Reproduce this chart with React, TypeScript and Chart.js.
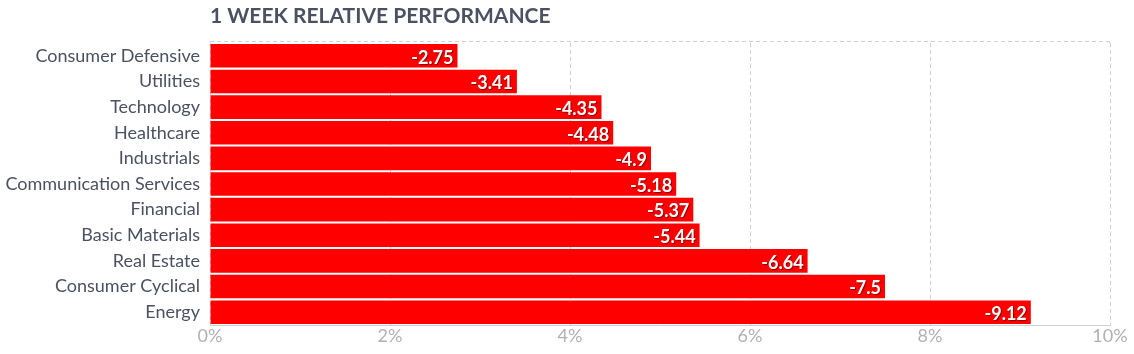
import React, { useEffect, useRef } from "react";
import { Chart, registerables } from "chart.js";

Chart.register(...registerables);

const title = "1 WEEK RELATIVE PERFORMANCE";
const categories = [
  "Consumer Defensive",
  "Utilities",
  "Technology",
  "Healthcare",
  "Industrials",
  "Communication Services",
  "Financial",
  "Basic Materials",
  "Real Estate",
  "Consumer Cyclical",
  "Energy",
];
const values = [-2.75, -3.41, -4.35, -4.48, -4.9, -5.18, -5.37, -5.44, -6.64, -7.5, -9.12];
const xTicks = [0, 2, 4, 6, 8, 10];

const FONT = "Lato, 'Open Sans', sans-serif";

export default function App() {
  const ref = useRef<HTMLCanvasElement | null>(null);
  useEffect(() => {
    const canvas = ref.current;
    if (!canvas) return;
    const decor = {
      id: "decor",
      beforeDatasetsDraw(chart: any) {
        const { ctx, chartArea } = chart;
        ctx.save();
        ctx.strokeStyle = "#d0d0d0";
        ctx.lineWidth = 1;
        ctx.setLineDash([4, 3]);
        ctx.beginPath();
        const y = Math.round(chartArea.top) - 1.5;
        ctx.moveTo(chartArea.left, y);
        ctx.lineTo(chartArea.right, y);
        ctx.moveTo(chartArea.right - 0.5, y);
        ctx.lineTo(chartArea.right - 0.5, chartArea.top);
        ctx.stroke();
        ctx.restore();
      },
      afterDraw(chart: any) {
        const { ctx, chartArea } = chart;
        ctx.save();
        ctx.font = `bold 21px ${FONT}`;
        ctx.fillStyle = "#4a5160";
        ctx.textAlign = "left";
        ctx.textBaseline = "middle";
        ctx.fillText(title, chartArea.left, 16);
        const meta = chart.getDatasetMeta(0);
        ctx.font = `bold 18px ${FONT}`;
        ctx.textAlign = "right";
        meta.data.forEach((bar: any, i: number) => {
          const txt = String(values[i]);
          ctx.shadowColor = "rgba(0,0,0,0.45)";
          ctx.shadowOffsetX = 1;
          ctx.shadowOffsetY = 1;
          ctx.shadowBlur = 1;
          ctx.fillStyle = "#ffffff";
          ctx.fillText(txt, bar.x - 4, bar.y + 2);
        });
        ctx.restore();
      },
    };
    const chart = new Chart(canvas, {
      type: "bar",
      data: {
        labels: categories,
        datasets: [
          {
            data: values.map((v) => Math.abs(v)),
            backgroundColor: "#ff0000",
            barPercentage: 0.92,
            categoryPercentage: 1,
          },
        ],
      },
      options: {
        indexAxis: "y",
        responsive: false,
        animation: false,
        layout: { padding: { top: 43, right: 24, left: 0, bottom: 0 } },
        plugins: { legend: { display: false }, tooltip: { enabled: false } },
        scales: {
          x: {
            min: 0,
            max: 10,
            afterFit(scale: any) {
              scale.height = 29;
            },
            afterBuildTicks(scale: any) {
              scale.ticks = xTicks.map((v) => ({ value: v }));
            },
            ticks: {
              callback: (v: any) => `${v}%`,
              color: "#b0b0b8",
              font: { family: FONT, size: 18 },
              padding: 0,
              maxRotation: 0,
            },
            grid: { color: "#d0d0d0", drawTicks: false },
            border: { display: true, color: "#d0d0d0", dash: [4, 3] },
          },
          y: {
            afterFit(scale: any) {
              scale.width = 210;
            },
            ticks: {
              color: "#4a5160",
              font: { family: FONT, size: 18 },
              padding: 10,
            },
            grid: { display: false, drawTicks: false },
            border: { display: false },
          },
        },
      },
      plugins: [decor],
    } as any);
    (chart.options.scales as any).x.grid.borderDash = [4, 3];
    (chart.options.scales as any).x.border.dash = [4, 3];
    chart.update();
    return () => chart.destroy();
  }, []);
  return (
    <div style={{ position: "fixed", left: 0, top: 0, width: 1134, height: 354 }}>
      <canvas ref={ref} width={1134} height={354} style={{ width: 1134, height: 354 }} />
    </div>
  );
}
